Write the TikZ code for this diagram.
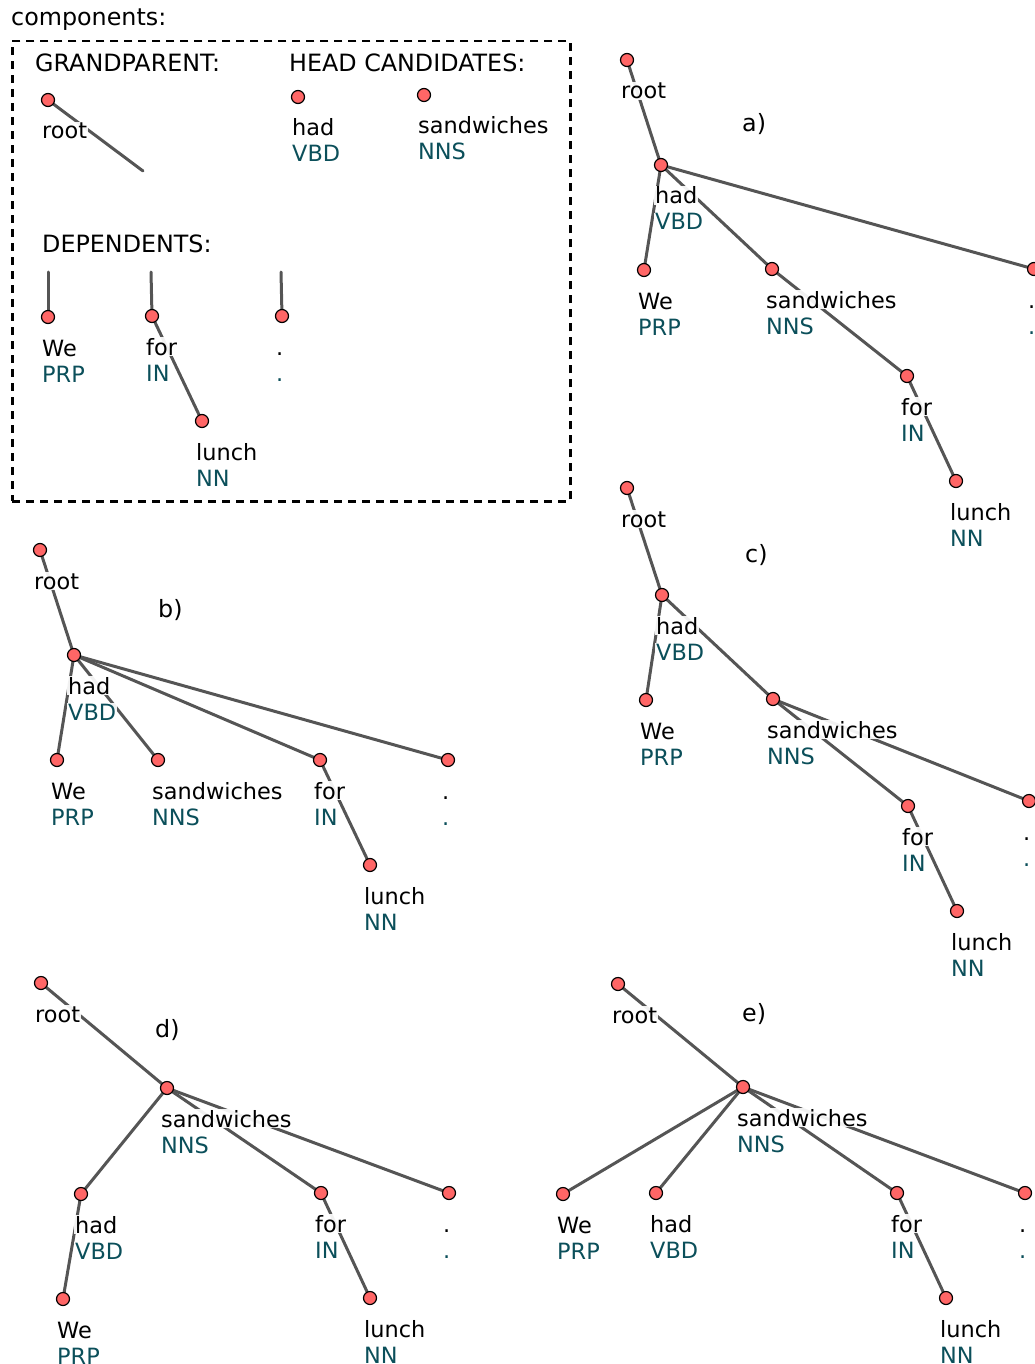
\documentclass[tikz,border=0pt]{standalone}
\usepackage{fontspec}
\setmainfont{DejaVu Sans}
\pgfdeclarelayer{edges}
\pgfdeclarelayer{labels}
\pgfsetlayers{edges,labels,main}
\definecolor{vfill}{HTML}{FF6666}
\definecolor{tagcol}{HTML}{0B4F5A}
\definecolor{edgecol}{HTML}{555555}
\tikzset{
  vertex/.style={circle, draw=black, line width=1.2pt, fill=vfill,
    minimum size=13pt, inner sep=0pt},
  wordlbl/.style={anchor=base west, inner sep=1pt, fill=white,
    fill opacity=0.92, text opacity=1,
    font=\fontsize{22.4}{26}\selectfont},
  taglbl/.style={wordlbl, text=tagcol},
  heading/.style={anchor=base west, inner sep=0pt,
    font=\fontsize{23.8}{28}\selectfont},
  arc/.style={draw=edgecol, line width=3pt, line cap=round},
  frame/.style={draw=black, line width=2.5pt, dash pattern=on 8pt off 6pt}
}
% a word vertex with its word and tag written below it
\newcommand\vtx[5]{%
  \node[vertex] (#1) at (#2,#3) {};
  \begin{pgfonlayer}{labels}
    \node[wordlbl] (#1-w) at (#2-7,#3+39) {#4};
    \node[taglbl] (#1-t) at (#2-7,#3+65) {#5};
  \end{pgfonlayer}}
% the root vertex, which has no tag
\newcommand\rvtx[3]{%
  \node[vertex] (#1) at (#2,#3) {};
  \begin{pgfonlayer}{labels}
    \node[wordlbl] (#1-w) at (#2-7,#3+39) {root};
  \end{pgfonlayer}}
\newcommand\arcs[1]{%
  \begin{pgfonlayer}{edges}
    \foreach \u/\v in {#1} \draw[arc] (\u.center) -- (\v.center);
  \end{pgfonlayer}}
\begin{document}
\begin{tikzpicture}[x=1pt,y=-1pt]
\useasboundingbox (0,0) rectangle (1034,1364);

% ---------- components ----------
\node[heading] (comp) at (11,26) {components:};
\node[frame, minimum width=558pt, minimum height=460pt, inner sep=0pt,
  anchor=north west] (box) at (11,40) {};
\node[heading] (gp) at (35,72) {GRANDPARENT:};
\node[heading] (hc) at (289,72) {HEAD CANDIDATES:};
\node[heading] (dp) at (42,252) {DEPENDENTS:};

\rvtx{k-root}{48}{100}
\coordinate (k-rootend) at (143,171);
\vtx{k-had}{298}{97}{had}{VBD}
\vtx{k-sand}{424}{95}{sandwiches}{NNS}

\coordinate (k-we0) at (48,272);
\coordinate (k-for0) at (151,272);
\coordinate (k-dot0) at (281,272);
\vtx{k-we}{48}{317}{We}{PRP}
\vtx{k-for}{152}{316}{for}{IN}
\vtx{k-lunch}{202}{421}{lunch}{NN}
\vtx{k-dot}{282}{316}{.}{.}
\arcs{k-root/k-rootend, k-we0/k-we, k-for0/k-for, k-for/k-lunch, k-dot0/k-dot}

% ---------- a) ----------
\node[heading] (la) at (742,132) {a)};
\rvtx{a-root}{627}{60}
\vtx{a-had}{661}{165}{had}{VBD}
\vtx{a-we}{644}{270}{We}{PRP}
\vtx{a-sand}{772}{269}{sandwiches}{NNS}
\vtx{a-for}{907}{376}{for}{IN}
\vtx{a-lunch}{956}{481}{lunch}{NN}
\vtx{a-dot}{1034}{269}{.}{.}
\arcs{a-root/a-had, a-had/a-we, a-had/a-sand, a-had/a-dot, a-sand/a-for, a-for/a-lunch}

% ---------- b) ----------
\node[heading] (lb) at (158,617) {b)};
\rvtx{b-root}{40}{550}
\vtx{b-had}{74}{655}{had}{VBD}
\vtx{b-we}{57}{760}{We}{PRP}
\vtx{b-sand}{158}{760}{sandwiches}{NNS}
\vtx{b-for}{320}{760}{for}{IN}
\vtx{b-lunch}{370}{865}{lunch}{NN}
\vtx{b-dot}{448}{760}{.}{.}
\arcs{b-root/b-had, b-had/b-we, b-had/b-sand, b-had/b-for, b-had/b-dot, b-for/b-lunch}

% ---------- c) ----------
\node[heading] (lc) at (745,562) {c)};
\rvtx{c-root}{627}{488}
\vtx{c-had}{662}{595}{had}{VBD}
\vtx{c-we}{646}{700}{We}{PRP}
\vtx{c-sand}{773}{699}{sandwiches}{NNS}
\vtx{c-for}{908}{806}{for}{IN}
\vtx{c-lunch}{957}{911}{lunch}{NN}
\vtx{c-dot}{1029}{801}{.}{.}
\arcs{c-root/c-had, c-had/c-we, c-had/c-sand, c-sand/c-for, c-sand/c-dot, c-for/c-lunch}

% ---------- d) ----------
\node[heading] (ld) at (155,1037) {d)};
\rvtx{d-root}{41}{983}
\vtx{d-sand}{167}{1088}{sandwiches}{NNS}
\vtx{d-had}{81}{1194}{had}{VBD}
\vtx{d-we}{63}{1299}{We}{PRP}
\vtx{d-for}{321}{1193}{for}{IN}
\vtx{d-lunch}{370}{1298}{lunch}{NN}
\vtx{d-dot}{449}{1193}{.}{.}
\arcs{d-root/d-sand, d-sand/d-had, d-had/d-we, d-sand/d-for, d-sand/d-dot, d-for/d-lunch}

% ---------- e) ----------
\node[heading] (le) at (742,1021) {e)};
\rvtx{e-root}{618}{984}
\vtx{e-sand}{743}{1087}{sandwiches}{NNS}
\vtx{e-we}{563}{1194}{We}{PRP}
\vtx{e-had}{656}{1193}{had}{VBD}
\vtx{e-for}{897}{1193}{for}{IN}
\vtx{e-lunch}{946}{1298}{lunch}{NN}
\vtx{e-dot}{1025}{1193}{.}{.}
\arcs{e-root/e-sand, e-sand/e-we, e-sand/e-had, e-sand/e-for, e-sand/e-dot, e-for/e-lunch}
\end{tikzpicture}
\end{document}
